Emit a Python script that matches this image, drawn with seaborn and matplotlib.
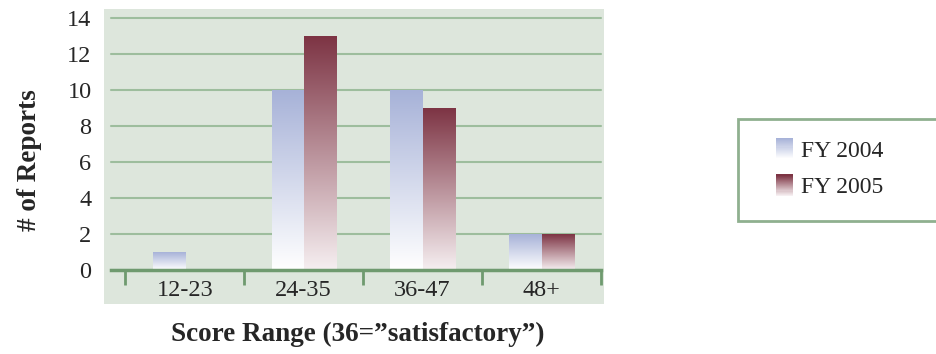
import numpy as np
import pandas as pd
import seaborn as sns
import matplotlib.pyplot as plt
from matplotlib.patches import Rectangle, Patch
from matplotlib.colors import LinearSegmentedColormap
from matplotlib.legend_handler import HandlerBase

## Data
ranges = ['12-23', '24-35', '36-47', '48+']
years = ['FY 2004', 'FY 2005']
fy2004 = [1, 10, 10, 2]
fy2005 = [0, 13, 9, 2]

df = pd.DataFrame({
    'range': ranges * 2,
    'count': fy2004 + fy2005,
    'year': [years[0]] * len(ranges) + [years[1]] * len(ranges),
})

# gradient colours (bottom -> top)
cmaps = {
    'FY 2004': LinearSegmentedColormap.from_list('b', ['#ffffff', '#a7b2d8']),
    'FY 2005': LinearSegmentedColormap.from_list('r', ['#f6eff1', '#7d3444']),
}
bg = '#dde6dc'
grid_c = '#9dbd9d'
axis_c = '#6f9a6f'

sns.set_style('white')
plt.rcParams['font.family'] = ['Liberation Serif', 'DejaVu Serif']

fig = plt.figure(figsize=(9.37, 3.54), dpi=100)
W, H = 937, 354

# plot area background
fig.patches.append(Rectangle((104 / W, 1 - 304 / H), 500 / W, 295 / H,
                             transform=fig.transFigure, facecolor=bg,
                             edgecolor='none', zorder=-1))

ax = fig.add_axes([111 / W, 84 / H, 490 / W, 252 / H])
ax.set_facecolor('none')

sns.barplot(data=df, x='range', y='count', hue='year', order=ranges,
            hue_order=years, width=0.54, gap=0, legend=False,
            palette=['#a7b2d8', '#7d3444'], ax=ax)

# gradient fill clipped to each bar
grad = np.linspace(0, 1, 256).reshape(-1, 1)
for cont, yr in zip(ax.containers, years):
    for bar in cont:
        h = bar.get_height()
        if h <= 0:
            continue
        x0 = bar.get_x()
        w = bar.get_width()
        im = ax.imshow(grad, cmap=cmaps[yr], origin='lower', aspect='auto',
                       extent=[x0, x0 + w, 0, h], zorder=1.5)
        im.set_clip_path(bar)
        bar.set_facecolor('none')
        bar.set_edgecolor('none')

ax.set_xlim(-0.62, 3.5)
ax.set_ylim(0, 14)
ax.set_yticks(np.arange(0, 15, 2))
ax.yaxis.grid(True, color=grid_c, linewidth=1.5)
for gl in ax.yaxis.get_gridlines():
    gl.set_clip_on(False)
ax.set_axisbelow(True)
ax.tick_params(axis='y', length=0, pad=14, labelsize=17.5)

ax.set_xticks(np.arange(-0.5, 4, 1))
ax.set_xticklabels([])
ax.set_xticks(np.arange(4), minor=True)
ax.set_xticklabels(ranges, minor=True, fontsize=17.5)
ax.tick_params(axis='x', which='major', bottom=True, direction='out',
               length=11, width=2, color=axis_c)
ax.tick_params(axis='x', which='minor', bottom=True, length=0, pad=7)

for s in ['top', 'right', 'left']:
    ax.spines[s].set_visible(False)
ax.spines['bottom'].set_color(axis_c)
ax.spines['bottom'].set_linewidth(2.5)
ax.set_xlabel('')
ax.set_ylabel('')

fig.text(30 / W, 1 - 160 / H, '# of Reports', rotation=90, ha='center',
         va='center', fontsize=19.5, fontweight='bold')
fig.text(358 / W, 1 - 334 / H, 'Score Range (36=\u201dsatisfactory\u201d)',
         ha='center', va='center', fontsize=19.5, fontweight='bold')


# legend with gradient swatches
class GradHandler(HandlerBase):
    def create_artists(self, legend, orig_handle, xdescent, ydescent,
                       width, height, fontsize, trans):
        cm = cmaps[orig_handle.get_label()]
        n = 20
        arts = []
        for i in range(n):
            r = Rectangle((-xdescent, -ydescent + height * i / n), width,
                          height / n + 0.3, facecolor=cm(i / (n - 1)),
                          edgecolor='none', transform=trans)
            arts.append(r)
        return arts


fig.patches.append(Rectangle((738 / W, 1 - 221 / H), 220 / W, 102 / H,
                             transform=fig.transFigure, facecolor='white',
                             edgecolor='#8fb08f', linewidth=2))
handles = [Patch(label=y) for y in years]
fig.legend(handles=handles, handler_map={Patch: GradHandler()},
           loc='upper left', bbox_to_anchor=(776 / W, 1 - 138 / H),
           frameon=False, borderpad=0, borderaxespad=0, fontsize=17,
           handlelength=0.7, handleheight=1.0, handletextpad=0.35,
           labelspacing=0.55)

fig.savefig('out.png', dpi=100)
